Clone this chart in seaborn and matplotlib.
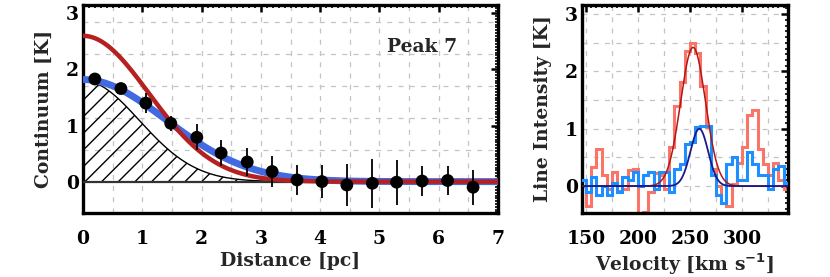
import numpy as np
import pandas as pd
import seaborn as sns
import matplotlib.pyplot as plt
from matplotlib.ticker import MultipleLocator

# left panel: continuum radial profile (Peak 7)
dist_pc = [0.20, 0.64, 1.06, 1.48, 1.92, 2.33, 2.77, 3.19, 3.61, 4.03, 4.45, 4.88, 5.29, 5.72, 6.15, 6.58]
cont_K = [1.83, 1.66, 1.40, 1.04, 0.79, 0.51, 0.35, 0.18, 0.03, 0.00, -0.06, -0.03, -0.01, 0.01, 0.02, -0.10]
cont_err = [0.05, 0.07, 0.18, 0.13, 0.23, 0.23, 0.25, 0.28, 0.26, 0.30, 0.37, 0.44, 0.40, 0.27, 0.25, 0.31]

# gaussian model profiles: (amplitude K, sigma pc)
fit_observed = (1.82, 1.40)
fit_intrinsic = (2.60, 1.11)
fit_beam = (1.80, 0.95)

# right panel: line spectra, 5 km/s channels
vel_chan = [147.5, 152.5, 157.5, 162.5, 167.5, 172.5, 177.5, 182.5, 187.5, 192.5,
            197.5, 202.5, 207.5, 212.5, 217.5, 222.5, 227.5, 232.5, 237.5, 242.5,
            247.5, 252.5, 257.5, 262.5, 267.5, 272.5, 277.5, 282.5, 287.5, 292.5,
            297.5, 302.5, 307.5, 312.5, 317.5, 322.5, 327.5, 332.5, 337.5, 342.5]
line_red = [0.00, -0.34, 0.33, 0.65, 0.19, -0.05, 0.25, -0.08, -0.05, 0.28,
            0.30, -0.60, -0.45, -0.10, 0.22, 0.20, -0.05, 0.68, 1.39, 1.82,
            2.35, 2.50, 2.32, 1.74, 1.03, 0.30, 0.00, -0.30, -0.34, 0.04,
            0.40, 0.68, 1.24, 1.33, 0.65, 0.39, 0.19, 0.40, 0.10, -0.05]
line_blue = [0.10, -0.10, 0.15, -0.15, 0.00, -0.15, 0.05, -0.10, 0.15, 0.10,
             0.25, 0.00, 0.20, 0.25, -0.05, 0.25, 0.25, -0.10, 0.30, 0.39,
             0.74, 0.77, 1.03, 1.04, 1.04, 0.20, -0.16, -0.30, 0.39, 0.50,
             0.10, 0.10, 0.60, 0.39, 0.20, 0.20, -0.05, 0.30, 0.35, 0.05]
# gaussian fits to the lines: (amplitude K, centre km/s, sigma km/s)
gfit_red = (2.42, 253.0, 12.0)
gfit_blue = (1.00, 259.0, 8.5)

sns.set_theme(style='white')
plt.rcParams['font.family'] = ['DejaVu Serif']
plt.rcParams['font.weight'] = 'bold'
plt.rcParams['axes.labelweight'] = 'bold'

fig = plt.figure(figsize=(8.3, 2.77), dpi=100)
ax1 = fig.add_axes([0.100, 0.231, 0.500, 0.751])
ax2 = fig.add_axes([0.701, 0.231, 0.248, 0.751])

grid_kw = dict(color='#c4c4c4', lw=0.9, ls=(0, (4, 5)), zorder=0)

# ---- left panel
r = np.linspace(0, 7, 400)
def gauss(x, a, s, c=0.0):
    return a * np.exp(-(x - c) ** 2 / (2 * s ** 2))

for gx in np.arange(0.5, 7, 0.5):
    ax1.axvline(gx, **grid_kw)
for gy in [-0.568, 0.568, 1.135, 1.703, 2.27, 2.84]:
    ax1.axhline(gy, **grid_kw)

beam = gauss(r, *fit_beam)
ax1.fill_between(r, 0, beam, facecolor='none', edgecolor='black', hatch='//', lw=0, zorder=2)
sns.lineplot(x=r, y=beam, color='black', lw=1.0, ax=ax1, zorder=3)
ax1.axhline(0, color='#333333', lw=1.6, zorder=3)
sns.lineplot(x=r, y=gauss(r, *fit_observed), color='#4169e1', lw=5.0, ax=ax1, zorder=4)
sns.lineplot(x=r, y=gauss(r, *fit_intrinsic), color='#b52020', lw=3.2, ax=ax1, zorder=5)
ax1.errorbar(dist_pc, cont_K, yerr=cont_err, fmt='none', ecolor='black', elinewidth=1.3, zorder=6)
sns.scatterplot(x=dist_pc, y=cont_K, color='black', s=85, edgecolor='none', ax=ax1, zorder=7)
ax1.text(5.13, 2.4, 'Peak 7', fontsize=13.5, fontweight='bold', va='center')

ax1.set_xlim(0, 7)
ax1.set_ylim(-0.56, 3.15)
ax1.set_xlabel('Distance [pc]', fontsize=13.5, labelpad=3)
ax1.set_ylabel('Continuum [K]', fontsize=13.5, labelpad=9)
ax1.xaxis.set_major_locator(MultipleLocator(1))
ax1.yaxis.set_major_locator(MultipleLocator(1))
ax1.xaxis.set_minor_locator(MultipleLocator(0.1))
ax1.yaxis.set_minor_locator(MultipleLocator(0.05))

# ---- right panel
v = np.linspace(140, 350, 600)
for gx in np.arange(150, 345, 25):
    ax2.axvline(gx, **grid_kw)
for gy in np.arange(-0.5, 3.1, 0.5):
    ax2.axhline(gy, **grid_kw)

df = pd.DataFrame({'vel': vel_chan, 'red': line_red, 'blue': line_blue})
edges = [c - 2.5 for c in vel_chan] + [vel_chan[-1] + 2.5]
ax2.stairs(df['red'], edges, color='#fa7468', lw=2.2, baseline=None, zorder=2)
ax2.stairs(df['blue'], edges, color='#1e8fff', lw=2.2, baseline=None, zorder=3)
sns.lineplot(x=v, y=gauss(v, gfit_red[0], gfit_red[2], gfit_red[1]), color='#b01818', lw=1.1, ax=ax2, zorder=4)
sns.lineplot(x=v, y=gauss(v, gfit_blue[0], gfit_blue[2], gfit_blue[1]), color='#1a1a8c', lw=1.3, ax=ax2, zorder=5)

ax2.set_xlim(146, 344)
ax2.set_ylim(-0.47, 3.16)
ax2.set_xlabel(r'Velocity [km s$^{\mathbf{-1}}$]', fontsize=13.5, labelpad=3)
ax2.set_ylabel('Line Intensity [K]', fontsize=13.5, labelpad=9)
ax2.xaxis.set_major_locator(MultipleLocator(50))
ax2.yaxis.set_major_locator(MultipleLocator(1))
ax2.xaxis.set_minor_locator(MultipleLocator(5))
ax2.yaxis.set_minor_locator(MultipleLocator(0.1))

for ax in (ax1, ax2):
    for sp in ax.spines.values():
        sp.set_visible(True)
        sp.set_color('black')
        sp.set_linewidth(2.4)
    ax.tick_params(which='both', direction='in', top=True, right=True, colors='black')
    ax.tick_params(which='major', length=5, width=1.8, labelsize=13.5, pad=3)
    ax.tick_params(which='minor', length=2.5, width=1.2)
    ax.tick_params(axis='x', which='major', pad=12)
    for lab in ax.get_xticklabels() + ax.get_yticklabels():
        lab.set_fontweight('bold')

fig.savefig('out.png', dpi=100)
